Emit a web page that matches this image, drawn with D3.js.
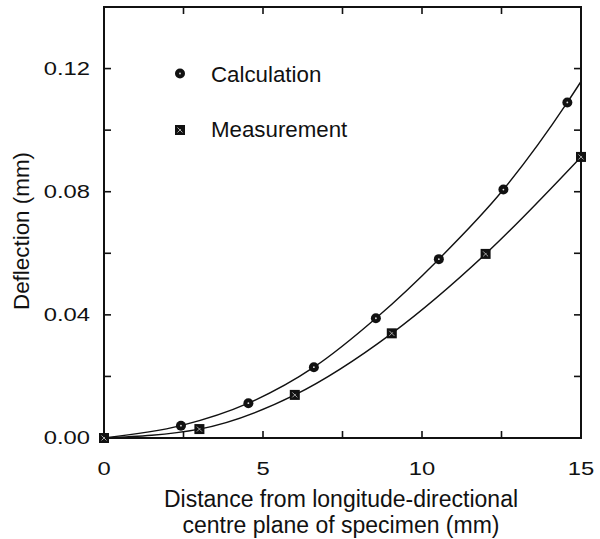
<!DOCTYPE html>
<html>
<head>
<meta charset="utf-8">
<script src="https://cdn.jsdelivr.net/npm/d3@7"></script>
<style>
  html, body { margin: 0; padding: 0; background: #fff; }
  svg { display: block; }
  text { font-family: "Liberation Sans", Arial, Helvetica, sans-serif; fill: #111; }
</style>
</head>
<body>
<svg id="chart" width="600" height="539"></svg>
<script>
// ---- data ----
const calcX = [0, 2.42, 4.54, 6.6, 8.55, 10.53, 12.56, 14.57];
const calcY = [0, 0.004, 0.0113, 0.023, 0.0389, 0.0581, 0.0807, 0.109];
const measX = [0, 3.0, 6.0, 9.05, 12.0, 15.0];
const measY = [0, 0.0029, 0.014, 0.034, 0.0598, 0.0913];
const calcCurveEndX = [15];
const calcCurveEndY = [0.1158];
const xTickValues = [0, 5, 10, 15];
const xTickLabels = ["0", "5", "10", "15"];
const xMinorTicks = [2.5, 7.5, 12.5];
const yTickValues = [0, 0.04, 0.08, 0.12];
const yTickLabels = ["0.00", "0.04", "0.08", "0.12"];
const yMinorTicks = [0.02, 0.06, 0.10];
const legendLabels = ["Calculation", "Measurement"];
const xTitleLines = ["Distance from longitude-directional", "centre plane of specimen (mm)"];
const yTitle = "Deflection (mm)";

// ---- layout ----
const svg = d3.select("#chart");
const L = 104, R = 581, T = 7, B = 438;
const x = d3.scaleLinear().domain([0, 15]).range([L, R]);
const y = d3.scaleLinear().domain([0, 0.14]).range([B, T]);
const tickLen = 7;

const g = svg.append("g");

// curves
const calcPts = calcX.map((v, i) => [v, calcY[i]]).concat(calcCurveEndX.map((v, i) => [v, calcCurveEndY[i]]));
const measPts = measX.map((v, i) => [v, measY[i]]);
const line = d3.line().x(d => x(d[0])).y(d => y(d[1])).curve(d3.curveMonotoneX);
g.append("path").attr("d", line(calcPts)).attr("fill", "none").attr("stroke", "#111").attr("stroke-width", 1.4);
g.append("path").attr("d", line(measPts)).attr("fill", "none").attr("stroke", "#111").attr("stroke-width", 1.4);

// axes frame
const ax = g.append("g").attr("stroke", "#111").attr("stroke-width", 2).attr("fill", "none");
ax.append("rect").attr("x", L).attr("y", T).attr("width", R - L).attr("height", B - T);

const xAll = xTickValues.concat(xMinorTicks);
const yAll = yTickValues.concat(yMinorTicks);
xAll.forEach(v => {
  if (v === 0 || v === 15) return;
  ax.append("line").attr("x1", x(v)).attr("x2", x(v)).attr("y1", B).attr("y2", B - tickLen).attr("stroke-width", 1.6);
  ax.append("line").attr("x1", x(v)).attr("x2", x(v)).attr("y1", T).attr("y2", T + tickLen).attr("stroke-width", 1.6);
});
yAll.forEach(v => {
  if (v === 0) return;
  ax.append("line").attr("x1", L).attr("x2", L + tickLen).attr("y1", y(v)).attr("y2", y(v)).attr("stroke-width", 1.6);
  ax.append("line").attr("x1", R).attr("x2", R - tickLen).attr("y1", y(v)).attr("y2", y(v)).attr("stroke-width", 1.6);
});

// tick labels (wide numerals: horizontally stretched)
const numSize = 18.6, numStretch = 1.28;
xTickValues.forEach((v, i) => {
  g.append("text").attr("transform", `translate(${x(v)},474.5) scale(${numStretch},1)`)
    .attr("text-anchor", "middle").attr("font-size", numSize).text(xTickLabels[i]);
});
yTickValues.forEach((v, i) => {
  g.append("text").attr("transform", `translate(${L - 14},${y(v) - 0.5}) scale(${numStretch},1)`)
    .attr("dy", "0.36em").attr("text-anchor", "end").attr("font-size", numSize).text(yTickLabels[i]);
});

// markers
function drawCircle(cx, cy) {
  g.append("circle").attr("cx", cx).attr("cy", cy).attr("r", 5).attr("fill", "#111");
  g.append("circle").attr("cx", cx).attr("cy", cy).attr("r", 0.9).attr("fill", "#ddd");
}
function drawSquare(cx, cy) {
  g.append("rect").attr("x", cx - 5).attr("y", cy - 5).attr("width", 10).attr("height", 10).attr("fill", "#111");
  g.append("path").attr("d", `M${cx-2.5},${cy-2.5}L${cx+2.5},${cy+2.5}M${cx-2.5},${cy+2.5}L${cx+1},${cy-1}`)
    .attr("stroke", "#ccc").attr("stroke-width", 0.8);
}
calcX.forEach((v, i) => drawCircle(x(v), y(calcY[i])));
measX.forEach((v, i) => drawSquare(x(v), y(measY[i])));

// legend
drawCircle(180, 73.5);
drawSquare(180, 130);
g.append("text").attr("x", 211).attr("y", 74).attr("dy", "0.36em").attr("font-size", 22.3).text(legendLabels[0]);
g.append("text").attr("x", 211).attr("y", 129).attr("dy", "0.36em").attr("font-size", 22.3).text(legendLabels[1]);

// axis titles
g.append("text").attr("x", 341).attr("y", 507).attr("text-anchor", "middle").attr("font-size", 23).text(xTitleLines[0]);
g.append("text").attr("x", 341).attr("y", 533).attr("text-anchor", "middle").attr("font-size", 23).text(xTitleLines[1]);
g.append("text").attr("transform", "translate(29,231) rotate(-90)").attr("text-anchor", "middle")
  .attr("font-size", 22.4).text(yTitle);
</script>
</body>
</html>
